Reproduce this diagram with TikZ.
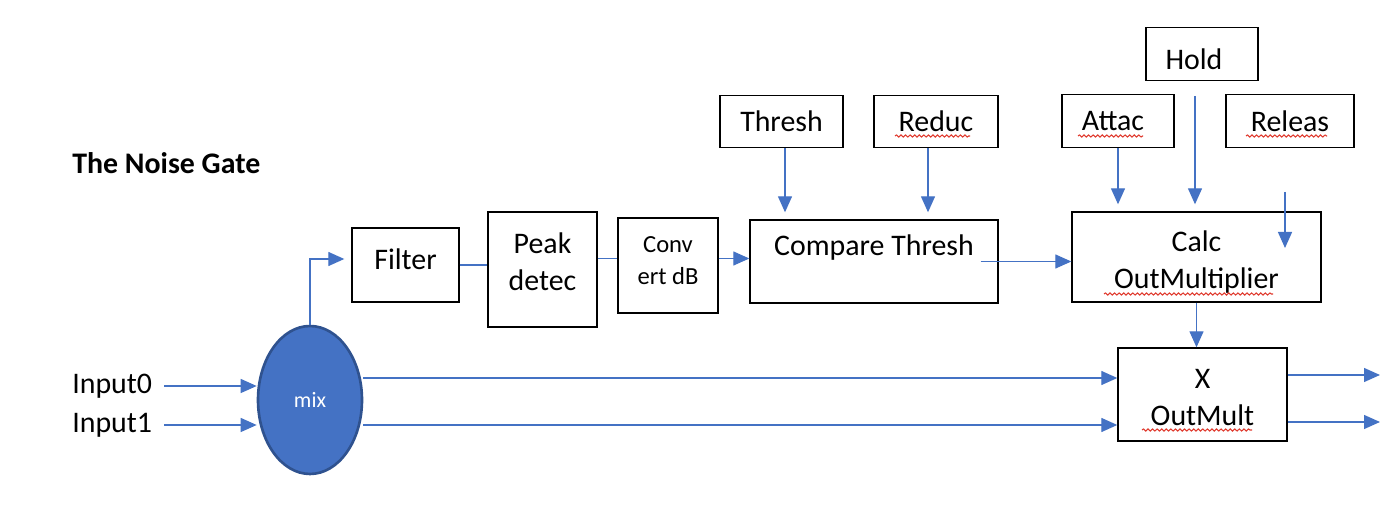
\documentclass[tikz,border=0pt]{standalone}
\usepackage{fontspec}
\setmainfont{Carlito}
\usetikzlibrary{arrows.meta,shapes.geometric,decorations.pathmorphing}
\definecolor{flowblue}{HTML}{4472C4}
\definecolor{mixedge}{HTML}{2F528F}
\definecolor{spellred}{HTML}{E03A2E}

\begin{document}
\begin{tikzpicture}[x=0.02cm, y=-0.02cm,
    block/.style={draw, line width=0.8pt, fill=white, inner sep=0pt, align=center, font=\fontsize{17}{21}\selectfont},
    param/.style={block, minimum height=1.05cm},
    plain/.style={inner sep=0pt, font=\fontsize{17}{21}\selectfont},
    flow/.style={draw=flowblue, line width=0.75pt, -{Triangle[length=0.32cm, width=0.28cm]}},
    wire/.style={draw=flowblue, line width=0.75pt},
    spell/.style={draw=spellred, line width=0.6pt, decorate, decoration={snake, amplitude=0.6pt, segment length=2.6pt}}
  ]
  \useasboundingbox (0,0) rectangle (1390,516);

  \node[plain, font=\bfseries\fontsize{17}{20}\selectfont, anchor=west] (title) at (72,163) {The Noise Gate};

  \node[plain, anchor=west] (in0) at (72,386) {Input0};
  \node[plain, anchor=west] (in1) at (72,425) {Input1};
  \node[ellipse, draw=mixedge, line width=1.5pt, fill=flowblue, minimum width=2.08cm, minimum height=2.96cm, text=white, font=\fontsize{12.5}{15}\selectfont] (mix) at (310,400) {mix};

  \node[block, minimum width=2.14cm, minimum height=1.48cm, text depth=0.24cm] (filter) at (405.5,265) {Filter};
  \node[block, minimum width=2.18cm, minimum height=2.3cm, text depth=0.32cm] (peak) at (542.5,269.5) {Peak\\detec};
  \node[block, minimum width=2cm, minimum height=1.9cm, text depth=0.2cm, font=\fontsize{14}{18}\selectfont] (conv) at (668,265.5) {Conv\\ert dB};
  \node[block, minimum width=4.96cm, minimum height=1.66cm, label={[plain, yshift=0.27cm]center:Compare Thresh}] (compare) at (874,261.5) {};

  \node[param, minimum width=2.46cm] (thresh) at (781.5,121.5) {Thresh};
  \node[param, minimum width=2.48cm] (reduc) at (936,121.5) {Reduc};
  \node[param, minimum width=2.24cm] (attac) at (1118,121) {Attac\hspace{0.2cm}};
  \node[param, minimum width=2.24cm] (hold) at (1202,54) {\rule{0pt}{0.62cm}Hold\hspace{0.32cm}};
  \node[param, minimum width=2.56cm] (releas) at (1290,121) {Releas};
  \node[block, minimum width=4.98cm, minimum height=1.8cm] (calc) at (1196.5,257) {\rule{0pt}{0.62cm}Calc\\OutMultiplier};
  \node[block, minimum width=3.38cm, minimum height=1.86cm] (outmult) at (1202.5,394.5) {\rule{0pt}{0.52cm}X\\OutMult};

  \coordinate (relTop) at (1285,192);
  \coordinate (relEnd) at (1285,248);
  \coordinate (out0) at (1380,375);
  \coordinate (out1) at (1380,422);

  % inputs into the mixer
  \draw[flow, shorten <=0.24cm] (in0.east) -- (in0.east -| mix.west);
  \draw[flow, shorten <=0.24cm] (in1.east) -- (in1.east -| mix.west);

  % detector chain
  \draw[flow, shorten >=0.14cm] (mix.north) |- ([yshift=0.12cm]filter.west);
  \draw[wire] (filter.east) -- (filter.east -| peak.west);
  \draw[wire] ([yshift=0.22cm]peak.east) -- ([yshift=0.22cm]peak.east -| conv.west);
  \draw[flow] ([yshift=0.14cm]conv.east) -- ([yshift=0.14cm]conv.east -| compare.west);
  \draw[flow] ([xshift=-0.36cm]compare.east) -- (compare.east -| calc.west);

  % parameters
  \draw[flow, shorten >=0.14cm] ([xshift=0.07cm]thresh.south) -- ([xshift=0.07cm]thresh.south |- compare.north);
  \draw[flow, shorten >=0.14cm] ([xshift=-0.16cm]reduc.south) -- ([xshift=-0.16cm]reduc.south |- compare.north);
  \draw[flow, shorten >=0.14cm] (attac.south) -- (attac.south |- calc.north);
  \draw[flow, shorten <=0.3cm, shorten >=0.14cm] ([xshift=-0.14cm]hold.south) -- ([xshift=-0.14cm]hold.south |- calc.north);
  \draw[flow] (relTop) -- (relEnd);

  % gain stage
  \draw[flow] (calc.south) -- (calc.south |- outmult.north);
  \draw[flow] ([yshift=0.44cm]mix.east) -- ([yshift=0.44cm]mix.east -| outmult.west);
  \draw[flow] ([yshift=-0.5cm]mix.east) -- ([yshift=-0.5cm]mix.east -| outmult.west);
  \draw[flow] (out0 -| outmult.east) -- (out0);
  \draw[flow] (out1 -| outmult.east) -- (out1);

  % spell check marks
  \draw[spell] (895,136) -- (970,136);
  \draw[spell] (1078,136) -- (1143,136);
  \draw[spell] (1246,136) -- (1327,136);
  \draw[spell] (1104,294) -- (1273,294);
  \draw[spell] (1142,430) -- (1252,430);
\end{tikzpicture}
\end{document}
